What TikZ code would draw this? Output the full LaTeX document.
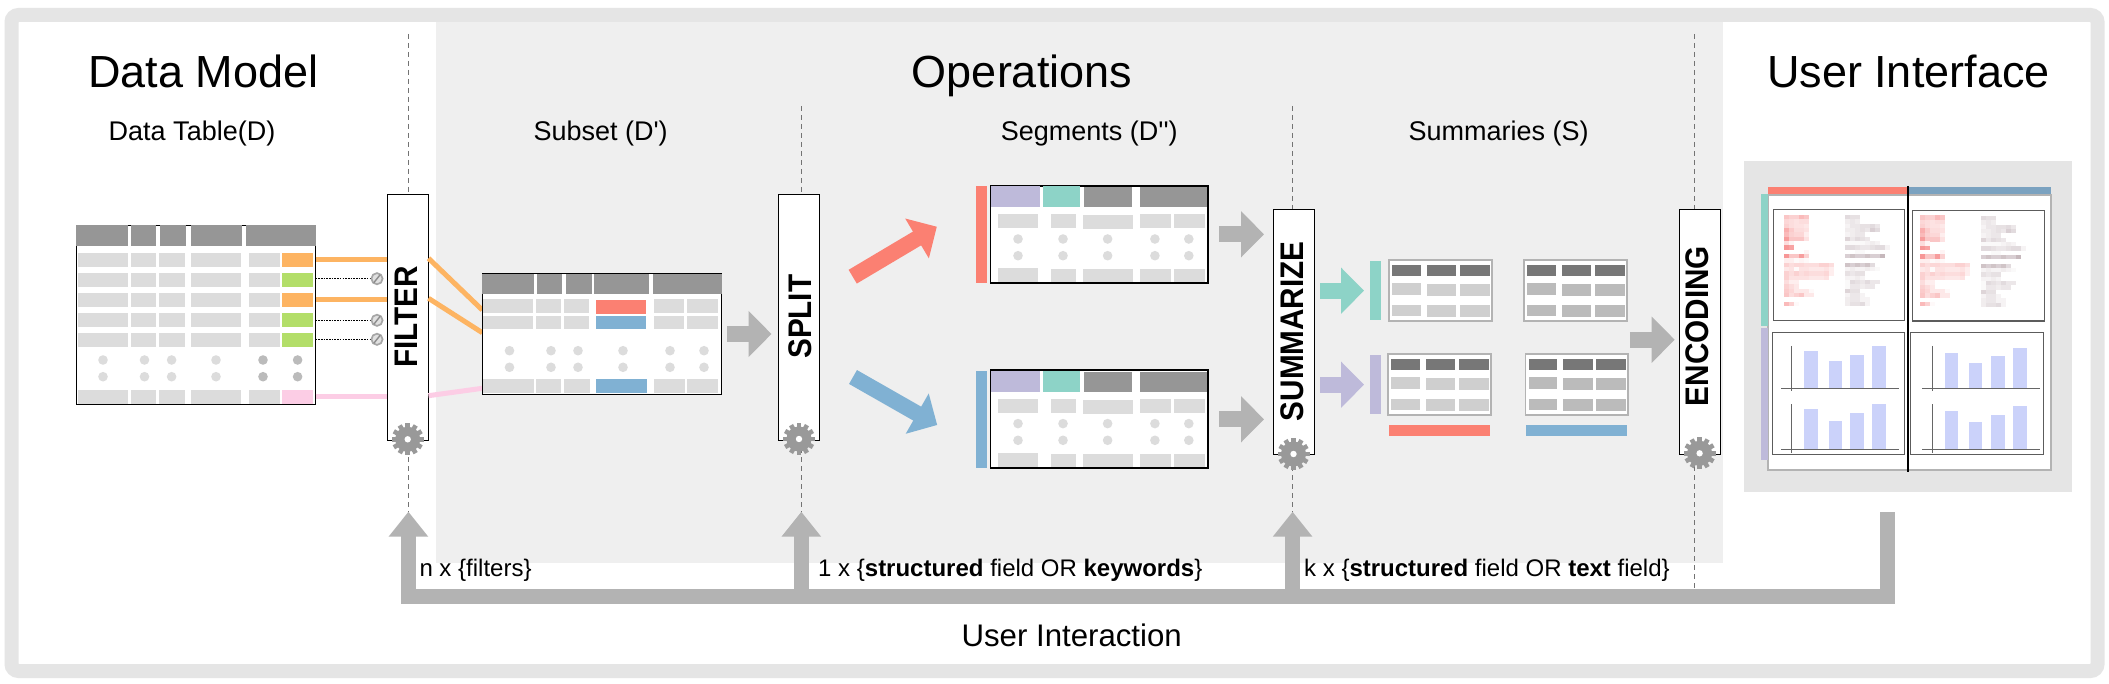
\documentclass[tikz,border=0pt]{standalone}
\usepackage{fontspec}
\setmainfont{Liberation Sans}
\newfontfamily\plainface{Liberation Sans}
\usetikzlibrary{arrows.meta}
\definecolor{bandgray}{HTML}{E5E5E5}
\definecolor{panelgray}{HTML}{EFEFEF}
\definecolor{uipanel}{HTML}{E5E5E5}
\definecolor{arrowgray}{HTML}{B3B3B3}
\definecolor{hdrgray}{HTML}{969696}
\definecolor{cellgray}{HTML}{DCDCDC}
\definecolor{sumcell}{HTML}{CFCFCF}
\definecolor{dotdark}{HTML}{BBBBBB}
\definecolor{setorange}{HTML}{FDB462}
\definecolor{setgreen}{HTML}{B3DE69}
\definecolor{setpink}{HTML}{FCCDE5}
\definecolor{setred}{HTML}{FB8072}
\definecolor{setblue}{HTML}{80B1D3}
\definecolor{setpurple}{HTML}{BEBADA}
\definecolor{setteal}{HTML}{8DD3C7}
\definecolor{uiblue}{HTML}{7BA2C0}
\definecolor{barblue}{HTML}{CBD2FA}
\definecolor{sumhdr}{HTML}{777777}
\definecolor{heatpink}{HTML}{F68C8C}
\definecolor{heatgray}{HTML}{A08890}
\definecolor{axisgray}{HTML}{666666}
\definecolor{gearcol}{HTML}{999999}
\tikzset{
  titletext/.style={anchor=base,inner sep=0pt,font=\fontsize{45}{50}\selectfont},
  subtext/.style={anchor=base,inner sep=0pt,font=\fontsize{27}{30}\selectfont},
  inputtext/.style={anchor=base west,inner sep=0pt,font=\fontsize{24}{28}\selectfont},
  optext/.style={rotate=90,inner sep=0pt,font=\fontsize{29.7}{32}\selectfont\bfseries},
  opbox/.style={draw=black,line width=1.2pt,fill=white,inner sep=0pt},
  guide/.style={draw=black!55,line width=0.8pt,dash pattern=on 5pt off 4pt},
  bigarrow/.style={line width=16pt,-{Triangle[length=23pt,width=45pt]}},
  uiarrow/.style={draw=arrowgray,line width=15.4pt,line join=miter,-{Triangle[length=25pt,width=38pt]}},
  filterline/.style={line width=5pt},
  dropline/.style={draw=black,line width=1.1pt,dash pattern=on 1.6pt off 1.1pt},
}
% fill a row of cells
\newcommand\hcells[4]{\foreach \cA/\cB in {#4}{\fill[#1] (\cA,#2) rectangle (\cB,#3);}}
\newcommand\dotrow[3]{\foreach \cA in {#3}{\fill[#1] (\cA,#2) circle (4.8pt);}}
\newcommand\cog[2]{\begin{scope}[shift={(#1,#2)}]
  \fill[gearcol] (0,0) circle (12.6pt);
  \foreach \aG in {0,30,...,330}{\fill[gearcol,rotate=\aG] (-2.3,0) rectangle (2.3,16);}
  \fill[white] (0,0) circle (3.2pt);
\end{scope}}
\newcommand\forbid[2]{\begin{scope}[shift={(#1,#2)}]
  \draw[draw=black!35,fill=black!12,line width=1.7pt] (0,0) circle (5.6pt);
  \draw[draw=black!45,line width=1.4pt] (-3.2,4) -- (3.2,-4);
\end{scope}}
% segment table
\newcommand\segtable[2]{\begin{scope}[shift={(0,#1)}]
  \fill[#2] (975.8,186) rectangle (986.8,283);
  \draw[draw=black,line width=1.8pt,fill=white] (990.5,185.7) rectangle (1207.7,283.3);
  \fill[setpurple] (991,186.2) rectangle (1040,207);
  \fill[setteal] (1042.8,186.2) rectangle (1080,207);
  \hcells{hdrgray}{187}{207}{1084/1132,1140/1207}
  \hcells{cellgray}{214}{228}{997.8/1037.8,1051/1076,1140/1171,1174/1204.5}
  \hcells{cellgray}{215}{229}{1082.8/1132.8}
  \dotrow{cellgray}{239}{1018,1063,1107.6,1154.9,1188.8}
  \dotrow{cellgray}{255.7}{1018,1063,1107.6,1154.9,1188.8}
  \hcells{cellgray}{268}{282}{997.8/1037.8}
  \hcells{cellgray}{269}{282}{1051/1076,1082.8/1132.8,1140/1171,1174/1204.5}
\end{scope}}
% summary table
\newcommand\sumtable[3]{\begin{scope}[shift={(#1,#2)}]
  \draw[draw=arrowgray,line width=1.8pt,fill=white] (1388.9,260) rectangle (1491.7,320.7);
  \hcells{sumhdr}{265}{276}{1392.1/1420.8,1426.8/1456,1459.8/1489.6}
  \hcells{#3}{283}{295}{1392.1/1420.8}
  \hcells{#3}{284}{296}{1426.8/1456,1459.8/1489.6}
  \hcells{#3}{305}{316}{1392.1/1420.8}
  \hcells{#3}{305}{317}{1426.8/1456,1459.8/1489.6}
\end{scope}}
% blurred text columns
\newcommand\heat[4]{\foreach \rI/\rV in {#4}{%
  \foreach \vV [count=\jJ from 0] in \rV {%
    \fill[#3!\vV!white] ({#1+5*\jJ},{#2+4.33*\rI}) rectangle ({#1+5*\jJ+5.05},{#2+4.33*\rI+4.38});
  }}}
\newcommand\pinkcol[2]{\heat{#1}{#2}{heatpink}{0/{50,40,40,60,50},1/{35,30,25,30,30},2/{40,30,25,25,20},3/{70,45,30,30,25},4/{60,40,35,35,15},5/{85,50,50,50,25},6/{30,10},7/{90,80},8/{0,0,0,0,10},9/{90,50,50,85,40},10/{15,15,5,10,5},11/{40,30,35,35,30,30,30,40,40,30},12/{20,25,5,25,25,20,20,20,25,15},13/{40,30,40,30,35,30,30,30,35,15},14/{40,25,25,25,25,20,20,20,25},15/{30,15,15},16/{40,30,20},17/{45,35,20,20,20,5},18/{50,30,40,50,20,20},20/{60,40,5}}}
\newcommand\graycol[2]{\heat{#1}{#2}{heatgray}{0/{30,25,25},1/{15,20,15},2/{10,20,20,25,25,30,20},3/{15,15,20,25,20,40,30},4/{10,15,20,20},5/{35,20,30,25,20},6/{5,5,5,5,10,15,10},7/{30,30,25,20,20,25,30,30,10},8/{0,0,5,5},9/{40,50,40,40,50,40,40,60},11/{50,40,50,40,50,30},12/{10,15,10,10,15,10,5},13/{25,20,25,25},14/{10,10,15,10},15/{5,30,25,20,30,20,20},16/{5,20,20,15,20,20},17/{35,25,25},18/{10,20,20,10},19/{15,20,20,10,10},20/{15,25,25,30,10}}}
% small bar chart
\newcommand\barchart[7]{%
  \foreach \bA/\bB/\bT in {#7}{\fill[barblue] (\bA,\bT) rectangle (\bB,#6);}
  \draw[axisgray,line width=0.8pt] (#1,#4) -- (#1,#5);
  \draw[axisgray,line width=0.8pt] (#2,#6) -- (#3,#6);}
\begin{document}
\begin{tikzpicture}[x=1pt,y=-1pt]
\useasboundingbox (0,0) rectangle (2109,684);
\fill[white] (0,0) rectangle (2109,684);
% operations panel and frame
\fill[panelgray] (436,14) rectangle (1723,562.7);
\draw[bandgray,line width=14pt,rounded corners=7pt] (11.5,15) rectangle (2097.5,671);
% titles
\node[titletext] (tdata) at (203.3,87.3) {Data Model};
\node[titletext] (tops) at (1022,87.3) {Operations};
\node[titletext] (tui) at (1908.3,87.3) {User Interface};
\node[subtext] (sdata) at (192,140.7) {Data Table(D)};
\node[subtext] (ssub) at (600.6,140.7) {\plainface Subset (D')};
\node[subtext] (sseg) at (1089.3,140.7) {\plainface Segments (D'{}')};
\node[subtext] (ssum) at (1498.7,140.7) {Summaries (S)};
% dashed guides
\coordinate (gf1) at (408.4,34); \coordinate (gf2) at (408.4,512);
\coordinate (gs1) at (801.3,106); \coordinate (gs2) at (801.3,512);
\coordinate (gz1) at (1292.6,106); \coordinate (gz2) at (1292.6,512);
\coordinate (ge1) at (1694.3,34); \coordinate (ge2) at (1694.3,588);
\draw[guide] (gf1) -- (gf2);
\draw[guide] (gs1) -- (gs2);
\draw[guide] (gz1) -- (gz2);
\draw[guide] (ge1) -- (ge2);
% operator boxes
\node[opbox,minimum width=41.2pt,minimum height=246pt] (filter) at (407.9,317.3) {};
\node[opbox,minimum width=41.3pt,minimum height=246.4pt] (split) at (799,317.5) {};
\node[opbox,minimum width=41.3pt,minimum height=245.4pt] (summ) at (1294,332) {};
\node[opbox,minimum width=41.1pt,minimum height=245pt] (enc) at (1700.1,331.8) {};
\node[optext] (lfilter) at (406,317) {\scalebox{1}[1.1]{FILTER}};
\node[optext] (lsplit) at (800,316.7) {\scalebox{1}[1.1]{SPLIT}};
\node[optext] (lsumm) at (1292.6,331.3) {\scalebox{1}[1.1]{SUMMARIZE}};
\node[optext] (lenc) at (1697.5,326) {\scalebox{1}[1.1]{ENCODING}};
\cog{407.7}{439.3}
\cog{799}{439}
\cog{1293.5}{454}
\cog{1699.6}{453.3}
% data table D
\draw[draw=black,line width=1.2pt,fill=white] (76.3,225.3) rectangle (315.5,404.7);
\hcells{hdrgray}{225}{246}{76/128,131/156,160/186,191/242,246/315.5}
\foreach \yA/\yB in {253/267,273/287,293/307,313/327,333/347,390/404}{
  \hcells{cellgray}{\yA}{\yB}{78/128,131/156,159/185,191/241,249/280}}
\fill[setorange] (282,253) rectangle (313,267);
\fill[setgreen] (282,273) rectangle (313,287);
\fill[setorange] (282,293) rectangle (313,307);
\fill[setgreen] (282,313) rectangle (313,327);
\fill[setgreen] (282,333) rectangle (313,347);
\fill[setpink] (282,390) rectangle (313,404);
\foreach \yD in {360,376.7}{
  \dotrow{cellgray}{\yD}{103,144.5,171.6,216}
  \dotrow{dotdark}{\yD}{263,297.6}}
% filter connectors
\coordinate (oa1) at (315.5,260); \coordinate (oa2) at (387.3,260);
\coordinate (ob1) at (315.5,300); \coordinate (ob2) at (387.3,300);
\coordinate (pa1) at (315.5,396.3); \coordinate (pa2) at (387.3,396.3);
\coordinate (oc1) at (428.5,258.3); \coordinate (oc2) at (482.3,310);
\coordinate (od1) at (428.5,298.3); \coordinate (od2) at (482.3,332.7);
\coordinate (pb1) at (428.5,395.7); \coordinate (pb2) at (482.3,388.3);
\draw[setorange,filterline] (oa1) -- (oa2);
\draw[setorange,filterline] (ob1) -- (ob2);
\draw[setpink,filterline] (pa1) -- (pa2);
\draw[setorange,filterline] (oc1) -- (oc2);
\draw[setorange,filterline] (od1) -- (od2);
\draw[setpink,filterline] (pb1) -- (pb2);
\coordinate (da1) at (315.5,278.7); \coordinate (da2) at (371,278.7);
\coordinate (db1) at (315.5,320.3); \coordinate (db2) at (371,320.3);
\coordinate (dc1) at (315.5,339.3); \coordinate (dc2) at (371,339.3);
\draw[dropline] (da1) -- (da2);
\draw[dropline] (db1) -- (db2);
\draw[dropline] (dc1) -- (dc2);
\forbid{377}{278.7}
\forbid{377}{320.3}
\forbid{377}{339.3}
% subset table D'
\draw[draw=black,line width=1.2pt,fill=white] (482.6,273.6) rectangle (721.8,394.3);
\hcells{hdrgray}{273.6}{294}{482.3/534,537/562.3,566.2/592,594.3/649,653/721.8}
\hcells{cellgray}{299}{313}{483.3/533,536/561,564/589,654/684,687/718}
\hcells{cellgray}{316}{329}{483.3/533,536/561,564/589,654/684,687/718}
\hcells{cellgray}{379}{393.3}{483.3/534,536/561,564/590,654/685,687/718}
\fill[setred] (596,300) rectangle (646,314);
\fill[setblue] (596,316) rectangle (646,329);
\fill[setblue] (596,379) rectangle (647,393.3);
\foreach \yD in {350.7,367.3}{\dotrow{cellgray}{\yD}{509.5,551,578,623,670,704}}
% block arrows
\coordinate (aa1) at (727,334); \coordinate (aa2) at (771.5,334);
\coordinate (ar1) at (852.7,276.7); \coordinate (ar2) at (936.8,226.7);
\coordinate (ab1) at (853,377); \coordinate (ab2) at (937.2,425);
\coordinate (ac1) at (1219,234.3); \coordinate (ac2) at (1264,234.3);
\coordinate (ad1) at (1219,419.3); \coordinate (ad2) at (1264,419.3);
\coordinate (ae1) at (1320,290.7); \coordinate (ae2) at (1364,290.7);
\coordinate (af1) at (1320,384.7); \coordinate (af2) at (1364,384.7);
\coordinate (ag1) at (1629.8,339.7); \coordinate (ag2) at (1674.7,339.7);
\draw[bigarrow,arrowgray] (aa1) -- (aa2);
\draw[bigarrow,setred] (ar1) -- (ar2);
\draw[bigarrow,setblue] (ab1) -- (ab2);
\draw[bigarrow,arrowgray] (ac1) -- (ac2);
\draw[bigarrow,arrowgray] (ad1) -- (ad2);
\draw[bigarrow,setteal] (ae1) -- (ae2);
\draw[bigarrow,setpurple] (af1) -- (af2);
\draw[bigarrow,arrowgray] (ag1) -- (ag2);
% segment tables
\segtable{0}{setred}
\segtable{184.6}{setblue}
% summary tables
\fill[setteal] (1369.7,261) rectangle (1380.8,320);
\fill[setpurple] (1369.7,355) rectangle (1380.8,414);
\sumtable{0}{0}{sumcell}
\sumtable{135.3}{0}{dotdark}
\sumtable{-1}{94}{sumcell}
\sumtable{136.5}{94}{dotdark}
\fill[setred] (1388.9,425) rectangle (1490.1,436);
\fill[setblue] (1525.8,425) rectangle (1627.1,436);
% user interface
\fill[uipanel] (1744,161) rectangle (2072,492);
\draw[draw=arrowgray,line width=1.8pt,fill=white] (1767.9,195) rectangle (2051,470);
\fill[setred] (1767.9,187) rectangle (1907.5,194.3);
\fill[uiblue] (1908.6,187) rectangle (2051,194.3);
\fill[setteal] (1760.8,194) rectangle (1768.4,326);
\fill[setpurple] (1760.8,327.7) rectangle (1768.4,460);
\draw[draw=axisgray!90!black,line width=1.1pt,fill=white] (1773.3,209.7) rectangle (1904.3,320.3);
\draw[draw=axisgray!90!black,line width=1.1pt,fill=white] (1912.3,210.3) rectangle (2044.3,321);
\draw[draw=axisgray!90!black,line width=1.1pt,fill=white] (1772.7,332.3) rectangle (1904.3,454.3);
\draw[draw=axisgray!90!black,line width=1.1pt,fill=white] (1910.8,332.3) rectangle (2043.4,454.3);
\pinkcol{1784}{215}
\graycol{1845}{215}
\pinkcol{1920}{215.5}
\graycol{1980.7}{216}
\barchart{1791.7}{1781.4}{1898.9}{346}{390.7}{388.3}{1804.1/1818.2/351,1828.5/1842/361.3,1850.2/1864.2/354.7,1872.3/1885.9/346}
\barchart{1791.7}{1781.4}{1898.9}{404}{452.7}{449.3}{1804.1/1818.2/409.3,1828.5/1842/420.7,1850.2/1864.2/413.3,1872.3/1885.9/404}
\barchart{1932.4}{1922.2}{2039.6}{346}{390.7}{388.3}{1944.9/1958.4/352.7,1968.7/1982.3/363,1990.9/2004.5/356.3,2013.1/2026.7/348}
\barchart{1932.4}{1922.2}{2039.6}{404}{452.7}{449.3}{1944.9/1958.4/411.3,1968.7/1982.3/422,1990.9/2004.5/415,2013.1/2026.7/406.3}
\coordinate (uis1) at (1908,186); \coordinate (uis2) at (1908,471.7);
\draw[draw=black,line width=2pt] (uis1) -- (uis2);
% user interaction arrows
\coordinate (ui0) at (1887.7,512.3);
\coordinate (ui1) at (1887.7,596.2);
\coordinate (ui2) at (408.4,596.2);
\coordinate (tipf) at (408.4,511.7);
\coordinate (bs) at (801.3,596.2); \coordinate (tips) at (801.3,511.7);
\coordinate (bz) at (1292.6,596.2); \coordinate (tipz) at (1292.6,511.7);
\draw[uiarrow] (ui0) -- (ui1) -- (ui2) -- (tipf);
\draw[uiarrow] (bs) -- (tips);
\draw[uiarrow] (bz) -- (tipz);
\node[inputtext] (inf) at (419.3,576.7) {n x \{filters\}};
\node[inputtext] (ins) at (818,576.7) {1 x \{\textbf{structured} field OR \textbf{keywords}\}};
\node[inputtext] (inz) at (1304,576.7) {k x \{\textbf{structured} field OR \textbf{text} field\}};
\node[subtext,font=\fontsize{31.2}{34}\selectfont] (tuser) at (1071.7,646.7) {User Interaction};
\end{tikzpicture}
\end{document}
